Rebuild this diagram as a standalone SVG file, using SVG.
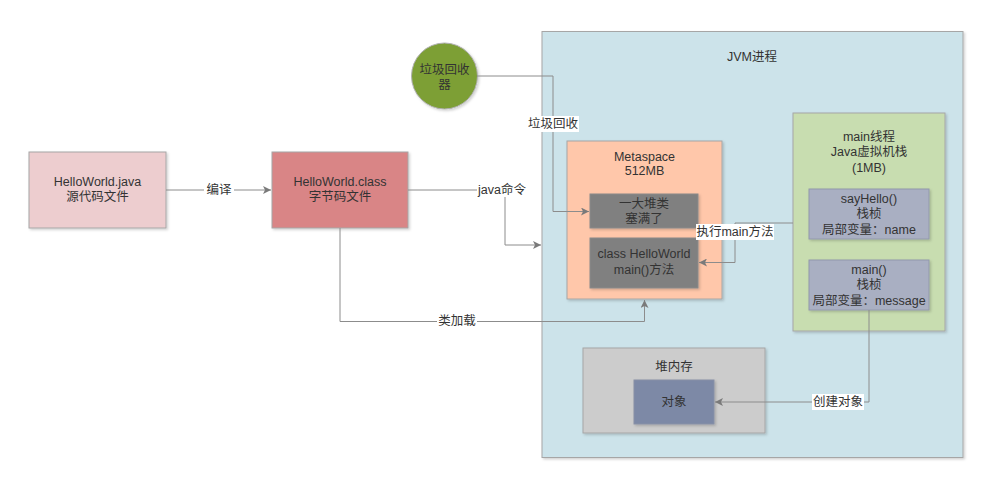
<svg xmlns="http://www.w3.org/2000/svg" width="1005" height="481" viewBox="0 0 1005 481">
<defs>
<style>
text{font-family:"Liberation Sans","Noto Sans CJK SC",sans-serif;font-size:12.5px;fill:#333;text-anchor:middle;dominant-baseline:central}
.b{stroke:#a6a6a6;stroke-width:1}
.c{fill:none;stroke:#8c8c8c;stroke-width:1}
.lb{fill:#fff}
</style>
<marker id="ah" viewBox="0 0 10 10" refX="10" refY="5" markerWidth="8" markerHeight="8" markerUnits="userSpaceOnUse" orient="auto">
<path d="M0,0 L10,5 L0,10 L2.5,5 z" fill="#7a7a7a"/>
</marker>
<filter id="sh" x="-5%" y="-5%" width="115%" height="115%">
<feDropShadow dx="1.5" dy="1.5" stdDeviation="1" flood-color="#000" flood-opacity="0.18"/>
</filter>
</defs>
<rect width="1005" height="481" fill="#fff"/>

<g id="jvm">
<rect class="b" x="542" y="31.5" width="421" height="426" fill="#cce3ea" filter="url(#sh)"/>
<text x="752" y="57">JVM进程</text>
</g>

<g id="java">
<rect class="b" x="29" y="152" width="137" height="76" fill="#edcdcf" filter="url(#sh)"/>
<text x="97.5" y="182">HelloWorld.java</text>
<text x="97.5" y="197">源代码文件</text>
</g>

<g id="class">
<rect class="b" x="272" y="152" width="136" height="76" fill="#d98586" filter="url(#sh)"/>
<text x="340" y="182">HelloWorld.class</text>
<text x="340" y="197">字节码文件</text>
</g>

<g id="gc">
<circle cx="444.5" cy="76" r="33" fill="#7d9f36" stroke="#b0b0b0" filter="url(#sh)"/>
<text x="444.5" y="70">垃圾回收</text>
<text x="444.5" y="85">器</text>
</g>

<g id="metaspace">
<rect class="b" x="567" y="141" width="155" height="158" fill="#ffc7aa" filter="url(#sh)"/>
<text x="644.5" y="157">Metaspace</text>
<text x="644.5" y="171">512MB</text>
</g>

<g id="classes">
<rect x="590" y="194" width="108" height="34" fill="#808080" stroke="#8a8a8a" filter="url(#sh)"/>
<text x="644" y="204">一大堆类</text>
<text x="644" y="219">塞满了</text>
</g>

<g id="helloclass">
<rect x="590" y="238" width="108" height="50" fill="#808080" stroke="#8a8a8a" filter="url(#sh)"/>
<text x="644" y="254">class HelloWorld</text>
<text x="644" y="270">main()方法</text>
</g>

<g id="mainthread">
<rect class="b" x="793" y="113" width="152" height="218" fill="#c8ddb0" filter="url(#sh)"/>
<text x="869" y="137">main线程</text>
<text x="869" y="152">Java虚拟机栈</text>
<text x="869" y="168">(1MB)</text>
</g>

<g id="sayhello">
<rect x="809" y="189" width="120" height="50" fill="#a9afc2" stroke="#9298ac" filter="url(#sh)"/>
<text x="869" y="199">sayHello()</text>
<text x="869" y="214">栈桢</text>
<text x="869" y="230">局部变量：name</text>
</g>

<g id="mainframe">
<rect x="809" y="260" width="120" height="50" fill="#a9afc2" stroke="#9298ac" filter="url(#sh)"/>
<text x="869" y="270">main()</text>
<text x="869" y="285">栈桢</text>
<text x="869" y="301">局部变量：message</text>
</g>

<g id="heap">
<rect class="b" x="583" y="348" width="182" height="85" fill="#cccccc" filter="url(#sh)"/>
<text x="674" y="367">堆内存</text>
</g>

<g id="object">
<rect x="634" y="380" width="80" height="44" fill="#7d89a6" stroke="#8890a6" filter="url(#sh)"/>
<text x="674" y="402">对象</text>
</g>

<g id="connectors">
<path class="c" d="M166,190 H271" marker-end="url(#ah)"/>
<rect class="lb" x="204" y="183" width="30" height="14"/>
<text x="219" y="190">编译</text>

<path class="c" d="M408,190 H505 V245 H541" marker-end="url(#ah)"/>
<rect class="lb" x="477" y="183" width="50" height="14"/>
<text x="502" y="190">java命令</text>

<path class="c" d="M477,76 H553 V211.5 H589" marker-end="url(#ah)"/>
<rect class="lb" x="527" y="116" width="52" height="16"/>
<text x="553" y="124">垃圾回收</text>

<path class="c" d="M340,228 V321.5 H644.5 V300" marker-end="url(#ah)"/>
<rect class="lb" x="437" y="314" width="40" height="15"/>
<text x="457" y="321">类加载</text>

<path class="c" d="M793,223 H735 V262.5 H699" marker-end="url(#ah)"/>
<rect class="lb" x="696" y="224" width="78" height="16"/>
<text x="735" y="232">执行main方法</text>

<path class="c" d="M869,310 V402 H715" marker-end="url(#ah)"/>
<rect class="lb" x="812" y="394" width="52" height="16"/>
<text x="838" y="402">创建对象</text>
</g>
</svg>
